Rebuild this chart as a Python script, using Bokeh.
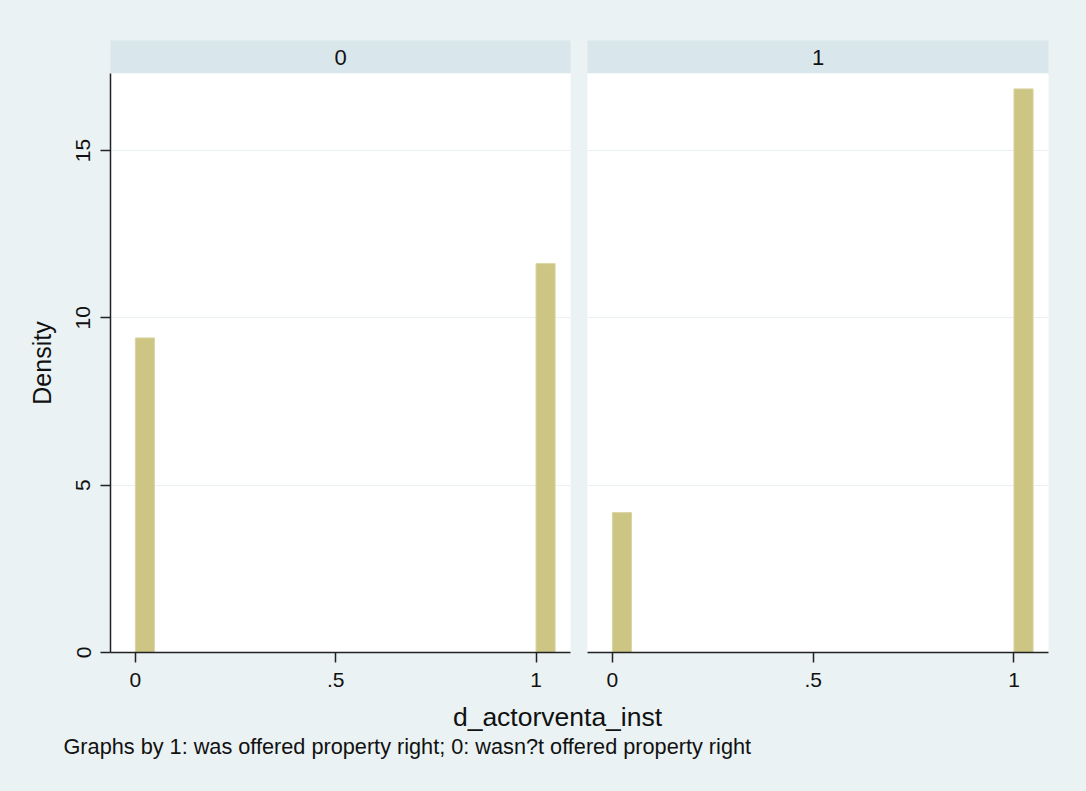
from bokeh.plotting import figure
from bokeh.layouts import row, column
from bokeh.models import Range1d, FixedTicker, Label, Grid
from bokeh.embed import file_html
from bokeh.resources import INLINE

# ---- data ----
panel_labels = ["0", "1"]
bin_width = 1.0 / 21.0
bin_left = [0.0, 1.0]
density_0 = [9.40, 11.62]
density_1 = [4.18, 16.84]
x_ticks = [0, 0.5, 1]
x_tick_labels = {0: "0", 0.5: ".5", 1: "1"}
y_ticks = [0, 5, 10, 15]
x_title = "d_actorventa_inst"
y_title = "Density"
note = "Graphs by 1: was offered property right; 0: wasn?t offered property right"

# ---- style ----
BG = "#EAF2F3"
STRIP = "#D9E6EB"
BAR = "#CCC584"
BAR_EDGE = "#DAD5A5"
GRID = "#E8F0F2"
AXIS = "#222222"
TXT = "#111111"
FONT = "Liberation Sans"

X_START, X_END = -0.062, 1.086
Y_END = 17.30


def make_strip(label, width, left, right):
    s = figure(width=width, height=73, x_range=Range1d(0, 1), y_range=Range1d(0, 1),
               output_backend="svg", toolbar_location=None,
               min_border_left=left, min_border_right=right,
               min_border_top=40, min_border_bottom=0,
               background_fill_color=STRIP, border_fill_color=BG,
               outline_line_color=None, x_axis_location=None, y_axis_location=None)
    s.grid.visible = False
    s.add_layout(Label(x=0.5, y=0.5, text=label, text_align="center",
                       text_baseline="middle", text_font=FONT,
                       text_font_size="22px", text_color=TXT))
    return s


def make_panel(dens, width, left, right, show_y):
    p = figure(width=width, height=627,
               x_range=Range1d(X_START, X_END), y_range=Range1d(0, Y_END),
               output_backend="svg", toolbar_location=None,
               min_border_left=left, min_border_right=right,
               min_border_top=0, min_border_bottom=48,
               background_fill_color="white", border_fill_color=BG,
               outline_line_color=None,
               y_axis_location="left" if show_y else None)
    centers = [b + bin_width / 2 for b in bin_left]
    p.vbar(x=centers, width=bin_width, bottom=0, top=dens,
           fill_color=BAR, line_color=BAR_EDGE, line_width=1)

    p.xgrid.visible = False
    for g in p.ygrid:
        g.visible = False
    p.add_layout(Grid(dimension=1, ticker=FixedTicker(ticks=y_ticks),
                      grid_line_color=GRID, grid_line_width=1))

    xa = p.xaxis[0]
    xa.ticker = FixedTicker(ticks=x_ticks)
    xa.major_label_overrides = x_tick_labels
    xa.axis_line_color = AXIS
    xa.axis_line_width = 1.5
    xa.major_tick_line_color = AXIS
    xa.major_tick_line_width = 1.5
    xa.major_tick_out = 10
    xa.major_tick_in = 0
    xa.minor_tick_line_color = None
    xa.major_label_standoff = 10
    xa.major_label_text_font = FONT
    xa.major_label_text_font_size = "21px"
    xa.major_label_text_color = TXT

    if show_y:
        ya = p.yaxis[0]
        ya.ticker = FixedTicker(ticks=y_ticks)
        ya.axis_line_color = AXIS
        ya.axis_line_width = 1.5
        ya.major_tick_line_color = AXIS
        ya.major_tick_line_width = 1.5
        ya.major_tick_out = 10
        ya.major_tick_in = 0
        ya.minor_tick_line_color = None
        ya.major_label_orientation = "vertical"
        ya.major_label_standoff = 10
        ya.major_label_text_font = FONT
        ya.major_label_text_font_size = "21px"
        ya.major_label_text_color = TXT
        ya.axis_label = y_title
        ya.axis_label_text_font = FONT
        ya.axis_label_text_font_size = "25px"
        ya.axis_label_text_font_style = "normal"
        ya.axis_label_text_color = TXT
        ya.axis_label_standoff = 18
    return p


sA = make_strip(panel_labels[0], 578, 110, 8)
sB = make_strip(panel_labels[1], 508, 9, 38)
pA = make_panel(density_0, 578, 110, 8, True)
pB = make_panel(density_1, 508, 9, 38, False)

pC = figure(width=1086, height=91, x_range=Range1d(0, 1086), y_range=Range1d(0, 91),
            output_backend="svg", toolbar_location=None,
            min_border_left=0, min_border_right=0, min_border_top=0, min_border_bottom=0,
            background_fill_color=BG, border_fill_color=BG, outline_line_color=None,
            x_axis_location=None, y_axis_location=None)
pC.grid.visible = False
pC.add_layout(Label(x=557, y=75, text=x_title, text_align="center", text_baseline="middle",
                    text_font=FONT, text_font_size="26.5px", text_color=TXT))
pC.add_layout(Label(x=63, y=45, text=note, text_align="left", text_baseline="middle",
                    text_font=FONT, text_font_size="21.7px", text_color=TXT))

bg = {"background-color": BG}
layout = column(row(column(sA, pA, styles=bg), column(sB, pB, styles=bg), styles=bg),
                pC, styles=bg)

open("out.html", "w").write(file_html(layout, INLINE))
